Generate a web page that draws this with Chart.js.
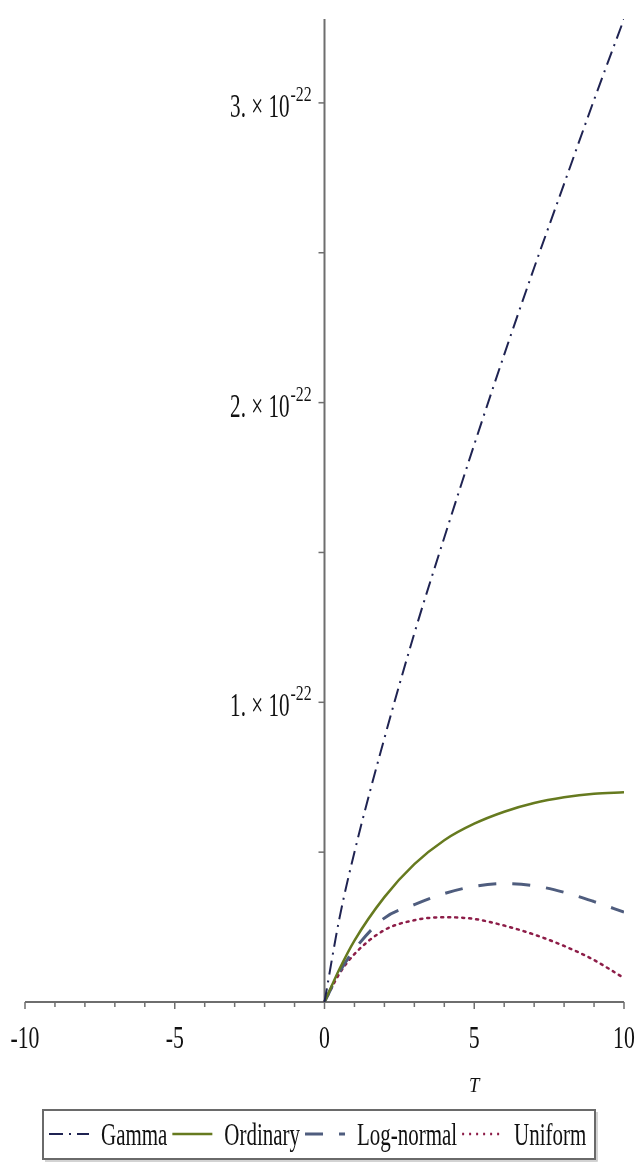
<!DOCTYPE html>
<html>
<head>
<meta charset="utf-8">
<script src="https://cdn.jsdelivr.net/npm/chart.js@4.4.1/dist/chart.umd.min.js"></script>
<style>
  html, body { margin: 0; padding: 0; background: #ffffff; }
  #wrap { position: relative; width: 636px; height: 1163px; }
</style>
</head>
<body>
<div id="wrap"><canvas id="c" width="636" height="1163"></canvas></div>
<script>
// ---- data (values in units of 10^-22) ----
const T_VALUES   = [0, 0.5, 1, 2, 3, 4, 5, 6, 7, 8, 9, 10];
const GAMMA      = [0, 0.28, 0.50, 0.88, 1.23, 1.55, 1.86, 2.16, 2.45, 2.73, 3.01, 3.28];
const ORDINARY   = [0, 0.11, 0.205, 0.35, 0.46, 0.54, 0.595, 0.635, 0.664, 0.683, 0.695, 0.70];
const LOGNORMAL  = [0, 0.10, 0.175, 0.28, 0.325, 0.362, 0.386, 0.395, 0.388, 0.366, 0.335, 0.30];
const UNIFORM    = [0, 0.095, 0.16, 0.24, 0.273, 0.283, 0.277, 0.255, 0.225, 0.187, 0.14, 0.08];
const SERIES_NAMES = ['Gamma', 'Ordinary', 'Log-normal', 'Uniform'];
const X_TICK_LABELS = [-10, -5, 0, 5, 10];
const Y_TICK_LABELS = [1, 2, 3];       // mantissas, times 10^Y_EXP
const Y_EXP = '-22';
const X_AXIS_TITLE = 'T';

const COLORS = ['#1f2352', '#667a1f', '#4f5d7e', '#8d1d48'];
const DASHES = [[14, 6, 2, 6], [], [18, 16], [2, 5]];
const WIDTHS = [2, 2.5, 3, 2.5];

function pts(ys) { return T_VALUES.map((t, i) => ({ x: t, y: ys[i] })); }
const SERIES = [GAMMA, ORDINARY, LOGNORMAL, UNIFORM];

const SERIF = '"Liberation Serif", "DejaVu Serif", serif';
function condText(ctx, str, x, y, size, sx, align, italic) {
  ctx.save();
  ctx.translate(x, y);
  ctx.scale(sx, 1);
  ctx.font = (italic ? 'italic ' : '') + size + 'px ' + SERIF;
  ctx.textAlign = align;
  ctx.textBaseline = 'alphabetic';
  ctx.fillStyle = '#111';
  ctx.fillText(str, 0, 0);
  ctx.restore();
}
function condWidth(ctx, str, size, sx) {
  ctx.save();
  ctx.font = size + 'px ' + SERIF;
  const w = ctx.measureText(str).width * sx;
  ctx.restore();
  return w;
}

const axesPlugin = {
  id: 'mapleAxes',
  beforeDatasetsDraw(chart) {
    const ctx = chart.ctx;
    const xs = chart.scales.x, ys = chart.scales.y;
    const x0 = xs.getPixelForValue(0), y0 = ys.getPixelForValue(0);
    ctx.save();
    ctx.strokeStyle = '#6e6e6e';
    ctx.lineWidth = 2;
    ctx.beginPath();
    ctx.moveTo(xs.getPixelForValue(-10), y0);
    ctx.lineTo(xs.getPixelForValue(10), y0);
    ctx.stroke();
    ctx.beginPath();
    ctx.moveTo(x0, ys.getPixelForValue(ys.max));
    ctx.lineTo(x0, y0);
    ctx.stroke();
    ctx.lineWidth = 1.5;
    for (let t = -10; t <= 10; t++) {
      const px = xs.getPixelForValue(t);
      const len = (t % 5 === 0) ? 7 : 5;
      ctx.beginPath();
      ctx.moveTo(px, y0);
      ctx.lineTo(px, y0 + len);
      ctx.stroke();
    }
    for (let v = 0.5; v <= 3.0001; v += 0.5) {
      const py = ys.getPixelForValue(v);
      ctx.beginPath();
      ctx.moveTo(x0 - 6, py);
      ctx.lineTo(x0, py);
      ctx.stroke();
    }
    ctx.restore();
    X_TICK_LABELS.forEach(t => {
      condText(ctx, String(t), xs.getPixelForValue(t), y0 + 46, 32, 0.68, 'center');
    });
    condText(ctx, X_AXIS_TITLE, xs.getPixelForValue(5), y0 + 90, 22, 0.85, 'center', true);
    Y_TICK_LABELS.forEach(m => {
      const py = ys.getPixelForValue(m);
      const right = x0 - 35;
      condText(ctx, m + '. \u00d7 10', right, py + 14, 33, 0.64, 'right');
      condText(ctx, Y_EXP, right + 1, py - 2, 22, 0.72, 'left');
    });
  },
  afterDraw(chart) {
    const ctx = chart.ctx;
    const bx = 43, by = 1110, bw = 552, bh = 49;
    ctx.save();
    ctx.strokeStyle = '#6a6a6a';
    ctx.lineWidth = 2;
    ctx.strokeRect(bx, by, bw, bh);
    ctx.strokeStyle = 'rgba(90,90,90,0.35)';
    ctx.lineWidth = 1.5;
    ctx.beginPath();
    ctx.moveTo(bx + 2, by + bh + 2);
    ctx.lineTo(bx + bw + 2, by + bh + 2);
    ctx.lineTo(bx + bw + 2, by + 2);
    ctx.stroke();
    ctx.restore();
    let x = 49;
    const ly = 1134;
    const fs = 32, sx = 0.655;
    SERIES_NAMES.forEach((name, i) => {
      ctx.save();
      ctx.strokeStyle = COLORS[i];
      ctx.lineWidth = WIDTHS[i];
      ctx.setLineDash(DASHES[i]);
      ctx.beginPath();
      ctx.moveTo(x, ly);
      ctx.lineTo(x + 40, ly);
      ctx.stroke();
      ctx.restore();
      x += 52;
      condText(ctx, name, x, ly + 11, fs, sx, 'left');
      x += condWidth(ctx, name, fs, sx) + 5;
    });
  }
};

new Chart(document.getElementById('c'), {
  type: 'line',
  data: {
    datasets: SERIES.map((ys, i) => ({
      label: SERIES_NAMES[i],
      data: pts(ys),
      borderColor: COLORS[i],
      borderWidth: WIDTHS[i],
      borderDash: DASHES[i],
      borderCapStyle: i === 3 ? 'round' : 'butt',
      pointRadius: 0,
      cubicInterpolationMode: 'monotone',
      fill: false
    }))
  },
  options: {
    responsive: false,
    animation: false,
    devicePixelRatio: 1,
    layout: { padding: { left: 25, right: 12, top: 19, bottom: 161 } },
    plugins: { legend: { display: false }, tooltip: { enabled: false } },
    scales: {
      x: { type: 'linear', min: -10, max: 10, display: false },
      y: { type: 'linear', min: 0, max: 3.28, display: false }
    }
  },
  plugins: [axesPlugin]
});
</script>
</body>
</html>
